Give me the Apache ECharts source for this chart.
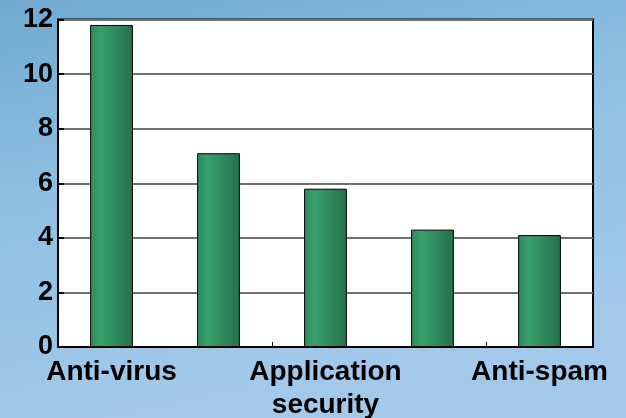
<!DOCTYPE html>
<html>
<head>
<meta charset="utf-8">
<script src="https://cdn.jsdelivr.net/npm/echarts@6/dist/echarts.min.js"></script>
<style>
  html, body { margin: 0; padding: 0; }
  #chart { width: 626px; height: 418px; }
</style>
</head>
<body>
<div id="chart"></div>
<script>
// Security spending categories (only every other name is printed on the axis)
const categories = ['Anti-virus', 'Firewall', 'Application\nsecurity', 'Intrusion\ndetection', 'Anti-spam'];
const values = [11.8, 7.1, 5.8, 4.3, 4.1];
const yTicks = [0, 2, 4, 6, 8, 10, 12];

const chart = echarts.init(document.getElementById('chart'), null, { renderer: 'canvas' });

const fontBase = {
  fontFamily: '"Liberation Sans", Arial, sans-serif',
  fontWeight: 'bold',
  color: '#000'
};

chart.setOption({
  animation: false,
  backgroundColor: {
    type: 'linear', x: 0, y: 0, x2: 0.15, y2: 1,
    colorStops: [
      { offset: 0, color: '#70a9cf' },
      { offset: 0.45, color: '#8dbfe2' },
      { offset: 1, color: '#a2c9ea' }
    ]
  },
  grid: {
    left: 58, right: 33, top: 19.5, bottom: 71,
    outerBoundsMode: 'none',
    containLabel: false,
    show: true,
    backgroundColor: '#ffffff',
    borderColor: '#000',
    borderWidth: 2
  },
  xAxis: {
    type: 'category',
    data: categories,
    axisLine: { show: true, lineStyle: { color: '#000', width: 2 } },
    axisTick: { show: true, inside: true, length: 5, lineStyle: { color: '#000', width: 1 } },
    axisLabel: Object.assign({ interval: 1, margin: 9, fontSize: 28, lineHeight: 33 }, fontBase),
    splitLine: { show: false }
  },
  yAxis: {
    type: 'value',
    min: yTicks[0],
    max: yTicks[yTicks.length - 1],
    interval: 2,
    axisLine: { show: true, lineStyle: { color: '#000', width: 2 } },
    axisTick: { show: true, inside: true, length: 6, lineStyle: { color: '#000', width: 2 } },
    axisLabel: Object.assign({ margin: 5, fontSize: 27 }, fontBase),
    splitLine: { show: true, lineStyle: { color: '#707070', width: 2 } }
  },
  series: [{
    type: 'bar',
    data: values,
    barWidth: '40%',
    itemStyle: {
      borderColor: '#000',
      borderWidth: 1,
      color: {
        type: 'linear', x: 0, y: 0, x2: 1, y2: 0,
        colorStops: [
          { offset: 0, color: '#2f8a5c' },
          { offset: 0.25, color: '#36a06b' },
          { offset: 1, color: '#26704b' }
        ]
      }
    }
  }]
});
</script>
</body>
</html>
